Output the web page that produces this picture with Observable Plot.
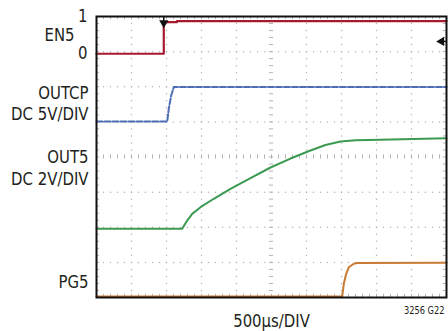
<!DOCTYPE html>
<html>
<head>
<meta charset="utf-8">
<script src="https://cdn.jsdelivr.net/npm/d3@7"></script>
<script src="https://cdn.jsdelivr.net/npm/@observablehq/plot@0.6"></script>
<style>
  html, body { margin: 0; padding: 0; background: #fff; }
  #chart svg { display: block; }
</style>
</head>
<body>
<div id="chart"></div>
<script>
// Time base: 500µs per division, 10 divisions across, 8 down
const timePerDiv = 500;
const divsX = 10;
const divsY = 8;

// EN5 enable input (logic level)
const en5Time  = [0, 961, 961, 1150, 1150, 5000];
const en5Level = [0, 0, 0.90, 0.90, 0.93, 0.93];

// OUTCP charge-pump output (V), DC 5V/DIV
const outcpTime  = [0, 1010, 1033, 1067, 1104, 5000];
const outcpVolts = [0, 0, 1.85, 3.7, 4.9, 4.9];

// OUT5 output (V), DC 2V/DIV
const out5Time  = [0, 1224, 1296, 1367, 1486, 1676, 1914, 2200, 2486, 2771, 3057, 3271, 3486, 3700, 4057, 5000];
const out5Volts = [0, 0, 0.47, 0.85, 1.23, 1.71, 2.27, 2.89, 3.49, 4.00, 4.46, 4.77, 4.97, 5.04, 5.07, 5.16];

// PG5 power-good output (logic level)
const pg5Time  = [0, 3510, 3533, 3567, 3604, 3676, 3724, 5000];
const pg5Level = [0, 0, 0.36, 0.645, 0.83, 0.93, 0.95, 0.96];

// Trigger level on EN5
const triggerLevel = 0.35;

// Channel labels on the left: text, row (divisions from bottom), inset from the frame (px)
const labelText  = ["1", "EN5", "0", "OUTCP", "DC 5V/DIV", "OUT5", "DC 2V/DIV", "PG5"];
const labelRow   = [8.0, 7.47, 6.95, 5.82, 5.23, 3.99, 3.37, 0.43];
const labelInset = [9, 22, 9, 8, 8, 8, 8, 8];

const timeLabel = "500µs/DIV";
const figureId = "3256 G22";

// Screen placement of each channel: ground row and units per division
const channels = [
  {time: en5Time,   value: en5Level,   ground: 6.94,  perDiv: 1, color: "#a6192e", width: 2.2, dash: null},
  {time: outcpTime, value: outcpVolts, ground: 5.01,  perDiv: 5, color: "#4d6cb6", width: 2,   dash: "6,2"},
  {time: out5Time,  value: out5Volts,  ground: 1.956, perDiv: 2, color: "#3d9a52", width: 2,   dash: null},
  {time: pg5Time,   value: pg5Level,   ground: 0.03,  perDiv: 1, color: "#c97a35", width: 2,   dash: null}
];

const font = "'Liberation Sans Narrow', 'DejaVu Sans Condensed', sans-serif";
const textCondense = 0.92;
const gridColor = "#b4b4b4";
const tMax = timePerDiv * divsX;

// Graticule: dotted major lines, ticked centre lines, ticks along the frame
const minorX = d3.range(0, divsX * 5 + 1).map(i => i * timePerDiv / 5);
const minorY = d3.range(0, divsY * 5 + 1).map(i => i / 5);
const gridDots = [];
for (let i = 1; i < divsX; i++) {
  if (i === divsX / 2) continue;
  minorY.forEach(y => gridDots.push({x: i * timePerDiv, y}));
}
for (let j = 1; j < divsY; j++) {
  if (j === divsY / 2) continue;
  minorX.forEach(x => gridDots.push({x, y: j}));
}
const tickLenT = 45;    // µs
const tickLenV = 0.09;  // divisions

const traceMarks = channels.map(c =>
  Plot.line(d3.range(c.time.length), {
    x: i => c.time[i],
    y: i => c.ground + c.value[i] / c.perDiv,
    stroke: c.color,
    strokeWidth: c.width,
    strokeDasharray: c.dash,
    strokeLinejoin: "round"
  })
);

const en5 = channels[0];

const labelMarks = labelText.map((s, i) =>
  Plot.text([s], {
    x: () => 0, y: () => labelRow[i], text: d => d,
    textAnchor: "end", dx: -labelInset[i], fontSize: 18, fill: "#231f20", fontFamily: font
  })
);

const chart = Plot.plot({
  width: 448,
  height: 331,
  marginLeft: 96,
  marginRight: 2,
  marginTop: 16,
  marginBottom: 34,
  style: {background: "#fff", fontFamily: font},
  x: {domain: [0, tMax], axis: null},
  y: {domain: [0, divsY], axis: null},
  marks: [
    Plot.dot(gridDots, {x: "x", y: "y", r: 0.75, fill: gridColor}),
    // centre lines carry fine ticks
    Plot.ruleX(minorX, {x: d => d, y1: divsY / 2 - 0.06, y2: divsY / 2 + 0.06, stroke: gridColor, strokeWidth: 1}),
    Plot.ruleY(minorY, {y: d => d, x1: tMax / 2 - 30, x2: tMax / 2 + 30, stroke: gridColor, strokeWidth: 1}),
    // ticks along the frame edges
    Plot.ruleY(minorY, {y: d => d, x1: 0, x2: tickLenT, stroke: gridColor, strokeWidth: 1}),
    Plot.ruleY(minorY, {y: d => d, x1: tMax - tickLenT, x2: tMax, stroke: gridColor, strokeWidth: 1}),
    Plot.ruleX(minorX, {x: d => d, y1: 0, y2: tickLenV, stroke: gridColor, strokeWidth: 1}),
    Plot.ruleX(minorX, {x: d => d, y1: divsY - tickLenV, y2: divsY, stroke: gridColor, strokeWidth: 1}),
    ...traceMarks,
    Plot.frame({stroke: "#111", strokeWidth: 2}),
    // trigger position marker on the top edge
    Plot.ruleX([en5Time[1]], {x: d => d, y1: divsY - 0.15, y2: divsY, stroke: "#111", strokeWidth: 1.5}),
    Plot.dot([en5Time[1]], {x: d => d, frameAnchor: "top", dy: 6.5, symbol: "triangle", rotate: 180, r: 3.4, fill: "#111"}),
    // trigger level marker on the right edge
    Plot.dot([triggerLevel], {y: d => en5.ground + d / en5.perDiv, frameAnchor: "right", dx: -5, symbol: "triangle", rotate: -90, r: 3.4, fill: "#111"}),
    Plot.ruleY([triggerLevel], {y: d => en5.ground + d / en5.perDiv, x1: tMax - 60, x2: tMax, stroke: "#111", strokeWidth: 1.5}),
    ...labelMarks,
    Plot.text([timeLabel], {
      x: () => tMax / 2, y: () => 0, text: d => d,
      dy: 24, fontSize: 18, fill: "#231f20", fontFamily: font
    }),
    Plot.text([figureId], {
      x: () => tMax, y: () => 0, text: d => d,
      textAnchor: "end", dx: -2, dy: 13, fontSize: 10, fill: "#231f20", fontFamily: font
    })
  ]
});

document.getElementById("chart").appendChild(chart);

// Narrow the lettering to a condensed face
chart.querySelectorAll("text").forEach(t => {
  const w = t.getComputedTextLength();
  if (w > 0) {
    t.setAttribute("textLength", (w * textCondense).toFixed(1));
    t.setAttribute("lengthAdjust", "spacingAndGlyphs");
  }
});
</script>
</body>
</html>
